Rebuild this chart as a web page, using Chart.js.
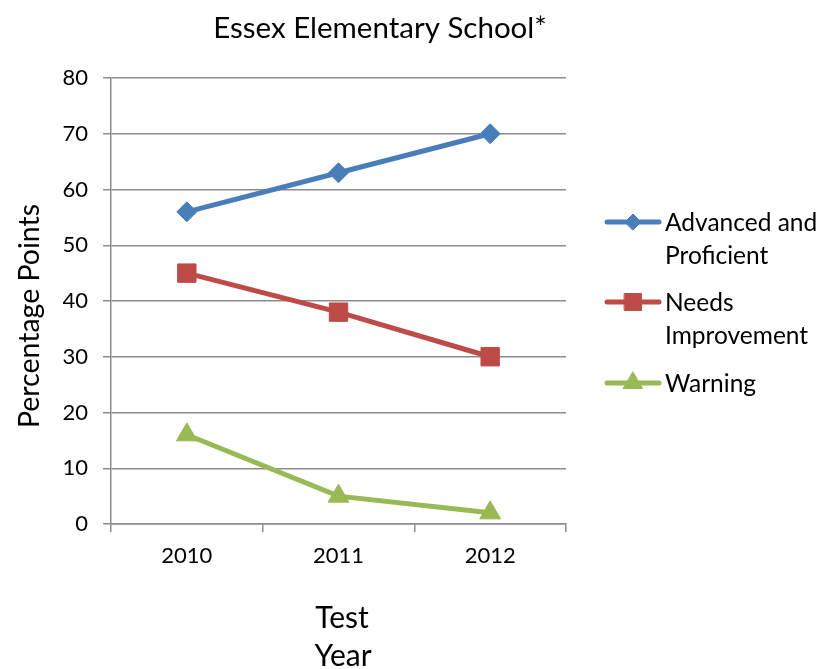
<!DOCTYPE html>
<html>
<head>
<meta charset="utf-8">
<script src="https://cdn.jsdelivr.net/npm/chart.js@4"></script>
<style>
  html, body { margin: 0; padding: 0; background: #fff; }
  #wrap { width: 819px; height: 669px; }
</style>
</head>
<body>
<div id="wrap"><canvas id="chart" width="819" height="669"></canvas></div>
<script>
// data
const years = ["2010", "2011", "2012"];
const advanced = [56, 63, 70];
const needsImprovement = [45, 38, 30];
const warning = [16, 5, 2];
const seriesNames = [["Advanced and", "Proficient"], ["Needs", "Improvement"], ["Warning"]];
const yTickMin = 0, yTickMax = 80, yTickStep = 10;

const FONT = "Lato, Carlito, Calibri, sans-serif";
const GRID = "#8c8c8c";

// title, legend + axis titles drawn by hand (multi-line legend entries)
const extras = {
  id: "extras",
  afterDraw(chart) {
    const ctx = chart.ctx;
    ctx.save();
    ctx.fillStyle = "#000";
    ctx.textBaseline = "middle";
    ctx.textAlign = "center";

    // chart title
    ctx.font = "29.5px " + FONT;
    ctx.fillText("Essex Elementary School*", 380, 28);

    // y axis title
    ctx.font = "28.5px " + FONT;
    ctx.save();
    ctx.translate(30, 316);
    ctx.rotate(-Math.PI / 2);
    ctx.fillText("Percentage Points", 0, 0);
    ctx.restore();

    // x axis title
    ctx.font = "30px " + FONT;
    ctx.fillText("Test", 342, 618);
    ctx.fillText("Year", 343, 656);

    // legend
    const rows = [222, 302, 383];
    ctx.font = "24.5px " + FONT;
    ctx.textAlign = "left";
    chart.data.datasets.forEach((ds, i) => {
      const y = rows[i];
      ctx.strokeStyle = ds.borderColor;
      ctx.lineWidth = 5;
      ctx.lineCap = "round";
      ctx.beginPath();
      ctx.moveTo(607, y);
      ctx.lineTo(659, y);
      ctx.stroke();
      ctx.fillStyle = ds.backgroundColor;
      ctx.strokeStyle = ds.backgroundColor;
      ctx.lineWidth = 1;
      Chart.helpers.drawPoint(ctx, {pointStyle: ds.pointStyle, radius: ds.legendRadius, borderWidth: 1}, 633, y);
      ctx.fillStyle = "#000";
      seriesNames[i].forEach((t, k) => ctx.fillText(t, 665, y + 1 + k * 33));
    });
    ctx.restore();
  }
};

new Chart(document.getElementById("chart"), {
  type: "line",
  data: {
    labels: years,
    datasets: [
      {
        label: seriesNames[0].join(" "),
        data: advanced,
        borderColor: "#4A7EBB",
        backgroundColor: "#4A7EBB",
        pointStyle: "rectRot",
        pointRadius: 10,
        legendRadius: 8,
      },
      {
        label: seriesNames[1].join(" "),
        data: needsImprovement,
        borderColor: "#BE4B48",
        backgroundColor: "#BE4B48",
        pointStyle: "rect",
        pointRadius: 13,
        legendRadius: 12,
      },
      {
        label: seriesNames[2].join(" "),
        data: warning,
        borderColor: "#98B954",
        backgroundColor: "#98B954",
        pointStyle: "triangle",
        pointRadius: 12,
        legendRadius: 11,
      },
    ]
  },
  options: {
    responsive: false,
    animation: false,
    events: [],
    layout: { padding: { left: 0, right: 253, top: 78, bottom: 0 } },
    elements: {
      line: { borderWidth: 5, tension: 0 },
      point: { borderWidth: 1, hoverRadius: 10 }
    },
    scales: {
      x: {
        offset: true,
        grid: { offset: true, drawOnChartArea: false, color: GRID, lineWidth: 1.5, tickLength: 8 },
        border: { color: GRID, width: 1.5 },
        ticks: { color: "#000", font: { family: FONT, size: 22 }, padding: 11, maxRotation: 0 },
        afterFit: s => { s.height = 145; }
      },
      y: {
        min: yTickMin,
        max: yTickMax,
        grid: { color: GRID, lineWidth: 1.5, tickLength: 8 },
        border: { color: GRID, width: 1.5 },
        ticks: { stepSize: yTickStep, color: "#000", font: { family: FONT, size: 22 }, padding: 15 },
        afterFit: s => { s.width = 111; }
      }
    },
    plugins: {
      legend: { display: false },
      tooltip: { enabled: false },
      title: { display: false }
    }
  },
  plugins: [extras]
});
</script>
</body>
</html>
